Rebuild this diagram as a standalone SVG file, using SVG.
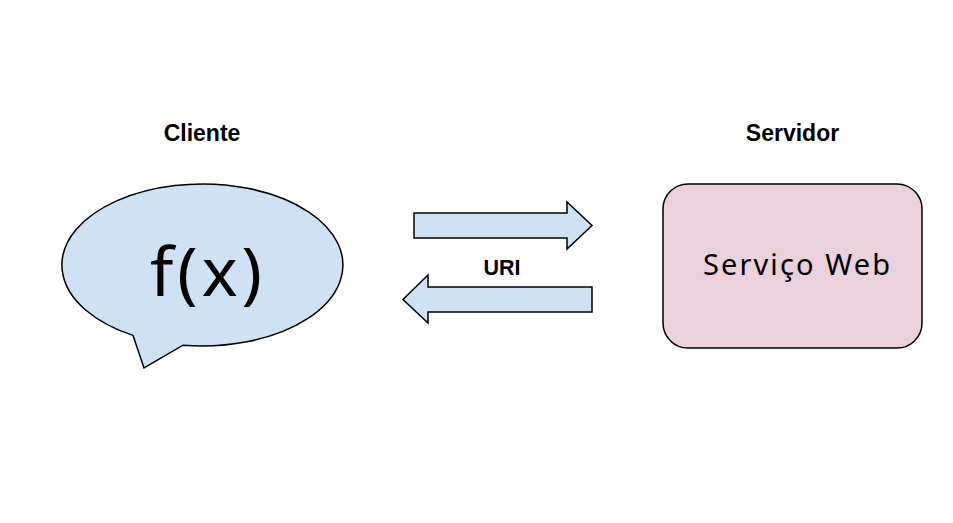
<svg xmlns="http://www.w3.org/2000/svg" width="953" height="523" viewBox="0 0 953 523">
<style>
.shape{fill:#cfe2f3;stroke:#000;stroke-width:1.5;stroke-linejoin:miter}
.lbl{font-family:"Liberation Sans",Arial,sans-serif;font-weight:bold;font-size:23px;fill:#000;text-anchor:middle}
.hand{font-family:"Comic Sans MS","Noto Sans","DejaVu Sans",sans-serif;fill:#000}
</style>
<rect width="953" height="523" fill="#fff"/>
<g id="cliente">
<text class="lbl" x="202" y="141">Cliente</text>
<path class="shape" d="M133,335.4 A140.5,81 0 1 1 183,345.2 L144,368 Z"/>
<text class="hand" x="150" y="296" font-size="68" textLength="112" lengthAdjust="spacing">f(x)</text>
</g>
<g id="servidor">
<text class="lbl" x="792.5" y="141">Servidor</text>
<rect x="663" y="184" width="259" height="164" rx="25" ry="25" fill="#ead1dc" stroke="#000" stroke-width="1.5"/>
<text class="hand" x="703" y="275" font-size="29" textLength="187" lengthAdjust="spacing">Serviço Web</text>
</g>
<g id="connectors">
<path class="shape" d="M414,213 L567,213 L567,202 L592,225.5 L567,249 L567,238 L414,238 Z"/>
<path class="shape" d="M592,287 L428,287 L428,275 L403,299.5 L428,323 L428,312 L592,312 Z"/>
<text class="lbl" x="502" y="275" style="font-size:21.5px">URI</text>
</g>
</svg>
